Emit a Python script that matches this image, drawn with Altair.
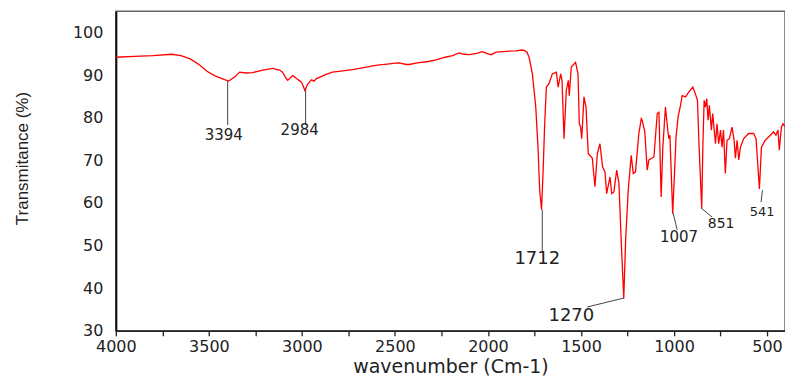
import altair as alt
import pandas as pd

# Spectrum (wavenumber cm-1, transmittance %)
wavenumber = [4000, 3900, 3800, 3700, 3650, 3600, 3550, 3510, 3470, 3430, 3394, 3360, 3335, 3300,
              3265, 3210, 3157, 3120, 3104, 3090, 3077, 3065, 3050, 3040, 3029, 3010, 3000, 2984,
              2970, 2949, 2935, 2922, 2900, 2870, 2836, 2780, 2728, 2690, 2653, 2620, 2583, 2540,
              2500, 2476, 2440, 2423, 2380, 2320, 2278, 2230, 2190, 2155, 2130, 2101, 2060, 2031,
              2000, 1983, 1956, 1900, 1850, 1816, 1806, 1790, 1779, 1761, 1743, 1731, 1722, 1712,
              1704, 1695, 1686, 1672, 1654, 1632, 1623, 1609, 1602, 1591, 1579, 1568, 1563, 1552,
              1529, 1516, 1509, 1502, 1496, 1484, 1473, 1461, 1439, 1425, 1412, 1398, 1384, 1371,
              1362, 1344, 1335, 1323, 1308, 1296, 1284, 1270, 1260, 1246, 1230, 1219, 1207, 1189,
              1176, 1171, 1157, 1144, 1135, 1108, 1090, 1081, 1076, 1069, 1060, 1046, 1037, 1028,
              1022, 1007, 999, 989, 978, 965, 956, 938, 921, 899, 885, 874, 865, 851, 845, 838,
              831, 824, 817, 810, 799, 792, 777, 769, 760, 750, 742, 734, 724, 715, 702, 688,
              677, 670, 661, 652, 643, 625, 599, 572, 559, 541, 530, 510, 482, 465, 452, 441,
              434, 423, 414, 405]
transmittance = [94.2, 94.4, 94.6, 94.9, 94.6, 93.8, 92.4, 90.9, 89.9, 89.2, 88.6, 89.6, 90.7, 90.5,
                 90.6, 91.2, 91.6, 91.2, 90.7, 89.6, 88.8, 89.2, 89.9, 89.6, 89.2, 88.6, 88.2, 86.4,
                 87.8, 88.9, 88.6, 89.2, 89.6, 90.2, 90.7, 91.0, 91.3, 91.6, 91.9, 92.2, 92.4, 92.6,
                 92.8, 92.9, 92.5, 92.5, 92.9, 93.2, 93.6, 94.2, 94.6, 95.2, 94.9, 94.8, 95.1, 95.5,
                 95.0, 94.8, 95.4, 95.6, 95.7, 95.9, 95.8, 95.4, 94.2, 90.3, 82.5, 73.1, 63.0, 58.4,
                 66.9, 78.6, 87.2, 88.0, 90.3, 90.7, 87.2, 90.3, 88.8, 75.1, 86.4, 88.8, 85.2, 91.9,
                 93.0, 90.3, 78.6, 77.8, 75.1, 84.9, 82.5, 71.6, 70.5, 63.8, 71.6, 73.9, 68.5, 67.3,
                 62.2, 66.1, 62.2, 62.6, 67.7, 64.6, 51.3, 37.6, 51.3, 63.0, 71.2, 66.9, 67.3, 76.3,
                 79.8, 79.4, 76.7, 67.7, 70.1, 70.8, 81.0, 81.3, 73.1, 61.4, 73.1, 82.5, 78.6, 75.1,
                 75.9, 57.5, 65.3, 75.5, 80.2, 82.9, 85.2, 84.9, 86.0, 87.2, 85.6, 84.1, 73.1, 58.7, 73.1, 84.1,
                 82.5, 84.5, 79.4, 82.9, 77.1, 81.0, 73.9, 78.6, 73.9, 77.1, 73.1, 77.1, 66.9, 74.7, 75.1, 77.8,
                 74.7, 70.5, 74.7, 70.1, 73.1, 75.1, 76.3, 76.3, 75.1, 63.3, 73.1, 74.7, 75.9, 76.7, 75.9, 77.1,
                 72.4, 77.8, 78.6, 78.0]

# Peak annotations: label text, text anchor, leader line ends
peak_labels = ["3394", "2984", "1712", "1270", "1007", "851", "541"]
label_x = [3420, 3012, 1735, 1552, 973, 747, 527]
label_y = [76.0, 77.1, 46.9, 33.5, 51.9, 55.1, 57.8]
label_size = [15, 15, 18, 18, 15, 14, 13]
line_x1 = [3399, 2980, 1708, 1268, 1005, 854, 525]
line_y1 = [88.6, 86.5, 58.4, 37.7, 57.7, 58.8, 63.0]
line_x2 = [3399, 2980, 1708, 1466, 983, 795, 532]
line_y2 = [78.3, 78.3, 48.75, 35.6, 53.7, 56.7, 60.2]

x_ticks = [4000, 3750, 3500, 3250, 3000, 2750, 2500, 2250, 2000, 1750, 1500, 1250, 1000, 750, 500]
y_ticks = [30, 40, 50, 60, 70, 80, 90, 100]

spec = pd.DataFrame({"w": wavenumber, "t": transmittance})
ann = pd.DataFrame({"label": peak_labels, "lx": label_x, "ly": label_y, "size": label_size,
                    "x1": line_x1, "y1": line_y1, "x2": line_x2, "y2": line_y2})

xscale = alt.Scale(domain=[403.4, 4000], reverse=True, nice=False, zero=False)
yscale = alt.Scale(domain=[30, 105], nice=False, zero=False)

xaxis = alt.Axis(values=x_ticks, title="wavenumber (Cm-1)", format="d",
                 labelExpr="datum.value % 500 == 0 ? datum.label : ''",
                 labelFlush=False, labelOverlap=False,
                 grid=False, tickSize=5, tickColor="#222", tickWidth=1.3,
                 domainColor="#222", domainWidth=1.5,
                 labelFont="DejaVu Sans", labelFontSize=16, labelColor="#222", labelPadding=3,
                 titleFont="DejaVu Sans", titleFontSize=19, titleFontWeight="normal",
                 titleColor="#222", titleBaseline="alphabetic", titleY=42)
yaxis = alt.Axis(values=y_ticks, title="Transmitance (%)", grid=False, tickSize=0,
                 labelFlush=False,
                 domainColor="#111", domainWidth=2,
                 labelFont="DejaVu Sans", labelFontSize=16, labelColor="#222", labelPadding=13,
                 titleFont="Liberation Sans", titleFontSize=17, titleFontWeight="normal",
                 titleColor="#222", titleX=-93, titleY=147, titleBaseline="middle")

line = alt.Chart(spec).mark_line(color="#ff0000", strokeWidth=1.3, clip=True).encode(
    x=alt.X("w:Q", scale=xscale, axis=xaxis),
    y=alt.Y("t:Q", scale=yscale, axis=yaxis),
)

leaders = alt.Chart(ann).mark_rule(color="#444", strokeWidth=1).encode(
    x=alt.X("x1:Q", scale=xscale), y=alt.Y("y1:Q", scale=yscale),
    x2="x2:Q", y2="y2:Q",
)

texts = alt.Chart(ann).mark_text(font="DejaVu Sans", color="#222", align="center",
                                 baseline="middle").encode(
    x=alt.X("lx:Q", scale=xscale), y=alt.Y("ly:Q", scale=yscale),
    text="label:N", size=alt.Size("size:Q", scale=None, legend=None),
)

chart = alt.layer(line, leaders, texts).properties(
    width=670, height=320,
    padding={"left": 116, "top": 11, "right": 0, "bottom": 46},
    autosize="none",
    background="white",
).configure_view(stroke="#666", strokeWidth=1.5)

chart.save("out.html", embed_options={"renderer": "svg", "actions": False})
